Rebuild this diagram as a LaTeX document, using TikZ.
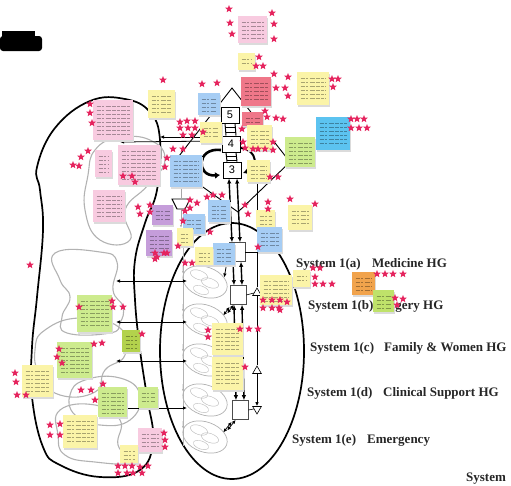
\documentclass[tikz,border=0pt]{standalone}
\usepackage{fontspec}
\setmainfont{Liberation Serif}
\newfontfamily\lsans{Liberation Sans}
\usetikzlibrary{shapes.geometric,arrows.meta}
\definecolor{starc}{HTML}{E5245E}
\definecolor{yeln}{HTML}{FBF4A8}
\definecolor{pinkn}{HTML}{F8CBE0}
\definecolor{redn}{HTML}{EF7789}
\definecolor{blun}{HTML}{A6CDF4}
\definecolor{cyann}{HTML}{5CC3F0}
\definecolor{grnn}{HTML}{CDEB8E}
\definecolor{olvn}{HTML}{B3D24C}
\definecolor{purpn}{HTML}{C59DDA}
\definecolor{orgn}{HTML}{F1A34C}
\definecolor{grntwo}{HTML}{BFE26A}
\newcommand\snote[5]{%
  \fill[black!14] (#1+1.2,#2+1.6) rectangle (#3+1.2,#4+1.6);
  \fill[#5] (#1,#2) rectangle (#3,#4);
  \pgfmathtruncatemacro\nlines{max(1,(#4-#2-6)/4)}%
  \foreach \i in {1,...,\nlines} {\draw[ntxt] (#1+3.5,#2+2+4*\i) -- (#3-3.5,#2+2+4*\i);}%
}
\tikzset{
  blobline/.style={line width=1.7pt, black},
  gloop/.style={line width=1.1pt, gray!60},
  strr/.style={star, star points=5, star point ratio=2.3, fill=starc, draw=none, minimum size=8pt, inner sep=0pt},
  ntxt/.style={line width=0.45pt, draw=black, draw opacity=0.33, dash pattern=on 4pt off 1.3pt on 2.5pt off 1.3pt on 5pt off 1.3pt},
  vbox/.style={draw, line width=1pt, fill=white, minimum width=18pt, minimum height=16pt, inner sep=0pt, font=\lsans\fontsize{11}{11}\selectfont},
  colbox/.style={draw=black!70, line width=0.6pt, fill=white, minimum width=16pt, minimum height=19pt, inner sep=0pt},
  opell/.style={ellipse, draw=gray!60, line width=0.7pt, fill=white, minimum width=46pt, minimum height=30pt, inner sep=0pt},
  tri/.style={regular polygon, regular polygon sides=3, draw, line width=0.6pt, fill=white, minimum size=10pt, inner sep=0pt},
  syslab/.style={font=\fontsize{13}{15}\selectfont\bfseries, inner sep=0pt, anchor=mid west, text=black!85},
  arr/.style={-{Latex[length=4pt,width=3.5pt]}, line width=0.8pt},
  dblarr/.style={{Latex[length=4pt,width=3.5pt]}-{Latex[length=4pt,width=3.5pt]}, line width=0.8pt},
  thk/.style={line width=1.4pt, {Latex[length=5pt,width=4.5pt]}-{Latex[length=5pt,width=4.5pt]}},
}
\begin{document}
\begin{tikzpicture}[x=1pt,y=-1pt]
\useasboundingbox (0,0) rectangle (511,485);
% redacted title
\fill[black, rounded corners=3pt] (0,36) rectangle (42,51);
\fill[black] (2,31) rectangle (35,37);

% environment blob
\draw[blobline] plot[smooth cycle, tension=0.7] coordinates {(37,167) (55,128) (90,101) (125,99) (150,112) (160,140) (157,190) (145,223) (135,260) (135,300) (140,350) (147,397) (153,440) (140,470) (100,477) (60,465) (43,447) (32,397) (32,347) (37,297) (43,230) (40,190)};
% grey loops
\draw[gloop] plot[smooth cycle, tension=0.8] coordinates {(55,253) (100,252) (117,262) (113,290) (123,307) (120,323) (110,333) (67,333) (62,317) (70,297) (60,280)};
\draw[gloop] plot[smooth cycle, tension=0.8] coordinates {(45,330) (80,318) (120,328) (125,355) (105,370) (95,392) (60,395) (40,375) (35,350)};
\draw[gloop] plot[smooth cycle, tension=0.8] coordinates {(85,380) (120,378) (140,395) (130,420) (100,425) (75,415) (70,395)};
\draw[gloop] plot[smooth cycle, tension=0.8] coordinates {(60,410) (95,405) (120,420) (118,445) (130,462) (95,462) (65,455) (58,435)};
\draw[gloop] plot[smooth cycle, tension=0.8] coordinates {(118,138) (150,140) (165,160) (148,185) (125,210) (130,240) (100,240) (85,210) (88,175) (95,150)};

% big ellipse of system 1
\draw[blobline] (232,351) ellipse [x radius=72pt, y radius=128pt];

% metasystem diamond
\draw[line width=0.9pt] (172,165) -- (232,88) -- (290,162) -- (238,212) -- cycle;

% VSM boxes
\node[vbox] (s5) at (230,115) {5};
\node[vbox] (s4) at (231,144) {4};
\node[vbox] (s3) at (232,170) {3};
\foreach \a/\b in {s5/s4,s4/s3}{
  \draw[line width=1pt] ([xshift=-5pt]\a.south) -- ([xshift=-5pt]\b.north);
  \draw[line width=1pt] ([xshift=5pt]\a.south) -- ([xshift=5pt]\b.north);
}
\draw[line width=0.8pt] (225,127) -- (235,127) (226,132) -- (236,132) (226,156) -- (236,156) (227,160) -- (237,160);
\draw[line width=2.6pt, -{Latex[length=5pt,width=7pt]}] (221,150) .. controls (196,147) and (196,177) .. (220,175);
\draw[line width=2pt, -{Latex[length=5pt,width=6pt]}] (241,148) .. controls (258,150) and (258,168) .. (243,173);
% lines to environment
\coordinate (e1) at (160,137);
\coordinate (e2) at (120,142);
\draw[arr] (s4.west |- 0,137) -- (e1);
\draw[arr] (s4.west |- 0,141) -- (e2);

% algedonic funnel
\draw[line width=0.9pt, fill=white] (172,199) -- (190,199) -- (185,209) -- (177,209) -- cycle;
\coordinate (fa) at (181,199);
\coordinate (fb) at (181,188);
\draw[gray!70, line width=0.8pt] (fb) -- (fa);
\coordinate (fc) at (181,209);
\coordinate (fd) at (181,228);
\draw[gray!70, line width=0.8pt, -{Latex[length=3pt]}] (fc) -- (fd);

% operations
\foreach \yy/\nm in {282/a,320/b,360/c,400/d,437/e}{
  \node[opell, rotate=-20] (op\nm) at (205,\yy) {};
  \draw[gray!55, line width=0.4pt] (199,\yy-7) ellipse [x radius=9pt, y radius=4.5pt, rotate=-20];
  \draw[gray!55, line width=0.4pt] (210,\yy+1) ellipse [x radius=9pt, y radius=4.5pt, rotate=-20];
  \draw[gray!55, line width=0.4pt] (201,\yy+8) ellipse [x radius=8pt, y radius=4pt, rotate=-20];
}
\coordinate (gtop) at (183,240);
\coordinate (gbot) at (183,446);
\draw[gray!60, line width=0.9pt] (gtop) -- (gbot);
\foreach \nm in {a,b,c,d,e}{
  \draw[gray!60, line width=0.7pt, -{Latex[length=3pt]}] (gtop |- op\nm.north west) -- (op\nm.west);
}
% environment to operations
\foreach \yy/\k in {281/1,322/2,361/3,408/4}{
  \coordinate (L\k) at (116,\yy);
  \coordinate (R\k) at (187,\yy);
  \draw[dblarr] (L\k) -- (R\k);
}

% management column
\node[colbox] (ma) at (237,252) {};
\node[colbox] (mb) at (238,295) {};
\node[colbox] (me) at (240,410) {};
\draw[thk] ([xshift=-3pt]s3.south) -- ([xshift=-5pt]ma.north);
\draw[thk] ([xshift=5pt]s3.south) -- ([xshift=3pt]ma.north);
\draw[thk] ([xshift=-4pt]ma.south) -- ([xshift=-4pt]mb.north);
\draw[thk] ([xshift=4pt]ma.south) -- ([xshift=4pt]mb.north);
\draw[thk] ([xshift=-4pt]mb.south) -- ([xshift=-4pt]me.north);
\draw[thk] ([xshift=4pt]mb.south) -- ([xshift=4pt]me.north);
\draw[dblarr] ([yshift=-2pt]mb.south west) -- ([xshift=-1pt]opb.north east);
\draw[dblarr] ([xshift=4pt]mb.south west) -- ([xshift=3pt,yshift=2pt]opb.north east);
\draw[dblarr] ([yshift=-2pt]me.south west) -- ([xshift=-1pt]ope.north east);
\draw[dblarr] ([xshift=4pt]me.south west) -- ([xshift=3pt,yshift=2pt]ope.north east);
\draw[dblarr] (ma.west) -- (opa.north east);
% right coordination line with triangles
\node[tri] (t1) at (257,293) {};
\node[tri] (t2) at (257,371) {};
\node[tri, shape border rotate=180] (t3) at (257,409) {};
\coordinate (ctop) at (257,183);
\draw[line width=0.8pt] (ctop) -- (t1) -- (t2);
\draw[arr] (t2) -- (t3);
\draw[line width=0.6pt] (ma.east) -- (ma.east -| ctop);
\draw[line width=0.6pt] (mb.east) -- (t1.west);
\draw[line width=0.6pt] (me.east) -- (t3.west);

% system labels
\node[syslab] (la1) at (296,265) {System 1(a)};
\node[syslab] (la2) at (372,265) {Medicine HG};
\node[syslab] (lb1) at (308,307) {System 1(b)};
\node[syslab] (lb2) at (375,307) {Surgery HG};
\node[syslab] (lc1) at (310,349) {System 1(c)};
\node[syslab] (lc2) at (384,349) {Family \& Women HG};
\node[syslab] (ld1) at (307,394) {System 1(d)};
\node[syslab] (ld2) at (383,394) {Clinical Support HG};
\node[syslab] (le1) at (292,441) {System 1(e)};
\node[syslab] (le2) at (367,441) {Emergency};
\node[syslab, anchor=south west] (lf) at (466,484.5) {System};

% sticky notes
\snote{238}{16}{267}{43}{pinkn}
\snote{238}{53}{255}{70}{yeln}
\snote{241}{77}{271}{106}{redn}
\snote{242}{112}{263}{126}{redn}
\snote{297}{72}{329}{105}{yeln}
\snote{316}{117}{350}{150}{cyann}
\snote{285}{137}{315}{167}{grnn}
\snote{247}{125}{272}{150}{yeln}
\snote{247}{160}{270}{182}{yeln}
\snote{198}{93}{220}{115}{blun}
\snote{200}{122}{222}{143}{yeln}
\snote{170}{155}{202}{187}{blun}
\snote{148}{90}{175}{118}{yeln}
\snote{93}{100}{133}{140}{pinkn}
\snote{95}{150}{112}{177}{pinkn}
\snote{118}{145}{160}{185}{pinkn}
\snote{93}{190}{125}{222}{pinkn}
\snote{152}{205}{173}{225}{purpn}
\snote{146}{230}{172}{256}{purpn}
\snote{183}{214}{205}{234}{blun}
\snote{177}{228}{193}{246}{yeln}
\snote{208}{200}{230}{222}{blun}
\snote{213}{243}{235}{265}{blun}
\snote{195}{247}{213}{265}{yeln}
\snote{256}{210}{275}{228}{yeln}
\snote{288}{205}{312}{230}{yeln}
\snote{257}{227}{282}{252}{blun}
\snote{260}{275}{292}{305}{yeln}
\snote{293}{270}{310}{287}{yeln}
\snote{212}{323}{243}{355}{yeln}
\snote{212}{357}{243}{390}{yeln}
\snote{352}{272}{375}{295}{orgn}
\snote{373}{290}{394}{312}{grntwo}
\snote{77}{295}{112}{332}{grnn}
\snote{122}{330}{140}{352}{olvn}
\snote{57}{342}{92}{378}{grnn}
\snote{22}{365}{53}{397}{yeln}
\snote{98}{387}{127}{417}{grnn}
\snote{138}{387}{158}{408}{grnn}
\snote{63}{415}{97}{448}{yeln}
\snote{138}{428}{162}{452}{pinkn}
\snote{120}{445}{138}{463}{yeln}

% votes (stars)
\foreach \x/\y [count=\k] in {229/9,230/23,232/34,272/13,274/24,274/39,259/57,263/66,256/66,274/74,288/77,276/88,285/88,288/96,202/84,217/83,163/80,332/79,338/79,333/87,265/111,267/117,276/118,283/119,242/129,351/119,357/119,364/119,351/128,359/128,367/128,
180/122,187/121,195/121,180/128,188/128,195/128,203/132,183/135,192/135,173/149,183/149,167/158,165/167,
243/142,245/148,253/149,258/149,265/149,273/150,273/142,270/177,278/177,
290/199,315/204,268/202,150/205,190/200,197/203,207/197,213/195,222/195,245/205,248/214,268/209,190/208,185/211,183/221,210/232,178/246,167/253,157/257,185/263,192/263,258/247,
90/104,90/113,92/123,88/151,81/157,73/165,79/166,123/176,132/176,135/182,138/207,150/212,140/214,
30/265,112/301,79/307,113/307,123/307,142/334,94/344,102/343,59/349,57/357,62/363,15/373,16/382,17/395,26/395,103/384,81/390,91/390,95/400,50/425,60/424,50/435,60/435,164/433,165/440,165/447,118/466,125/466,132/466,140/467,148/466,118/473,127/473,133/473,142/473,155/253,164/253,155/259,
263/300,272/300,280/300,287/302,263/308,272/308,279/308,208/330,208/337,240/329,249/329,258/329,245/367,
313/268,320/268,315/277,315/284,323/284,332/284,377/274,385/274,393/274,403/274,395/298,403/299,397/305,280/310}
  \node[strr] (st\k) at (\x,\y) {};
\end{tikzpicture}
\end{document}
